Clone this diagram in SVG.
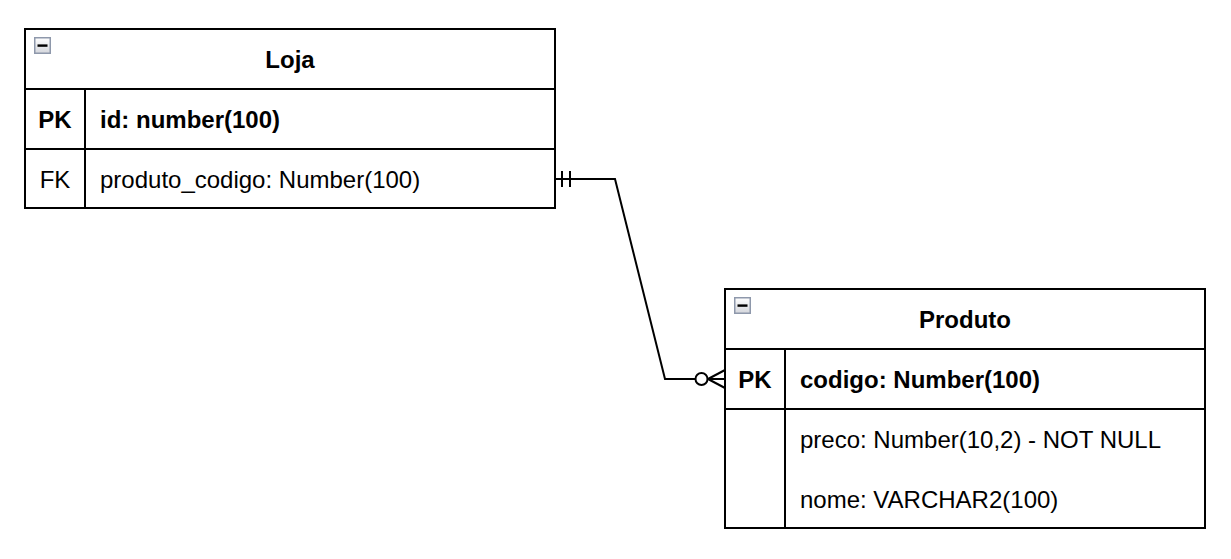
<svg xmlns="http://www.w3.org/2000/svg" width="1231" height="559" viewBox="0 0 1231 559">
<style>
.box{fill:#ffffff;stroke:#000000;stroke-width:2}
.ln{stroke:#000000;stroke-width:2;fill:none}
text{font-family:"Liberation Sans",Arial,sans-serif;font-size:24px;fill:#000000}
.b{font-weight:bold}
.c{text-anchor:middle}
.ic{fill:url(#g);stroke:#8e98ab;stroke-width:1.5}
.conn{stroke:#000000;stroke-width:2;fill:none}
</style>
<defs>
<linearGradient id="g" x1="0" y1="0" x2="0" y2="1">
<stop offset="0" stop-color="#ffffff"/>
<stop offset="1" stop-color="#d4d6dc"/>
</linearGradient>
<g id="minus">
<rect class="ic" x="0.75" y="0.75" width="15.5" height="15.5"/>
<rect x="3.5" y="7.4" width="10" height="2.4" fill="#000000"/>
</g>
</defs>
<rect width="1231" height="559" fill="#ffffff"/>
<g id="loja">
<rect class="box" x="25" y="29" width="530" height="179"/>
<line class="ln" x1="25" y1="89" x2="555" y2="89"/>
<line class="ln" x1="25" y1="149" x2="555" y2="149"/>
<line class="ln" x1="85" y1="89" x2="85" y2="208"/>
<use href="#minus" x="34" y="37"/>
<text class="b c" x="290" y="68">Loja</text>
<text class="b c" x="55" y="128">PK</text>
<text class="b" x="100" y="128">id: number(100)</text>
<text class="c" x="55" y="188">FK</text>
<text x="100" y="188">produto_codigo: Number(100)</text>
</g>
<g id="produto">
<rect class="box" x="725" y="289" width="480" height="239"/>
<line class="ln" x1="725" y1="349" x2="1205" y2="349"/>
<line class="ln" x1="725" y1="409" x2="1205" y2="409"/>
<line class="ln" x1="785" y1="349" x2="785" y2="528"/>
<use href="#minus" x="734" y="297"/>
<text class="b c" x="965" y="328">Produto</text>
<text class="b c" x="755" y="388">PK</text>
<text class="b" x="800" y="388">codigo: Number(100)</text>
<text x="800" y="448">preco: Number(10,2) - NOT NULL</text>
<text x="800" y="508">nome: VARCHAR2(100)</text>
</g>
<g id="connectors">
<polyline class="conn" points="555,179 615,179 665,379 695,379"/>
<line class="conn" x1="562" y1="171" x2="562" y2="187"/>
<line class="conn" x1="570" y1="171" x2="570" y2="187"/>
<circle class="conn" cx="701.5" cy="379" r="6" fill="#ffffff"/>
<line class="conn" x1="707.5" y1="379" x2="725" y2="379"/>
<line class="conn" x1="708" y1="379" x2="725" y2="370"/>
<line class="conn" x1="708" y1="379" x2="725" y2="388"/>
</g>
</svg>
